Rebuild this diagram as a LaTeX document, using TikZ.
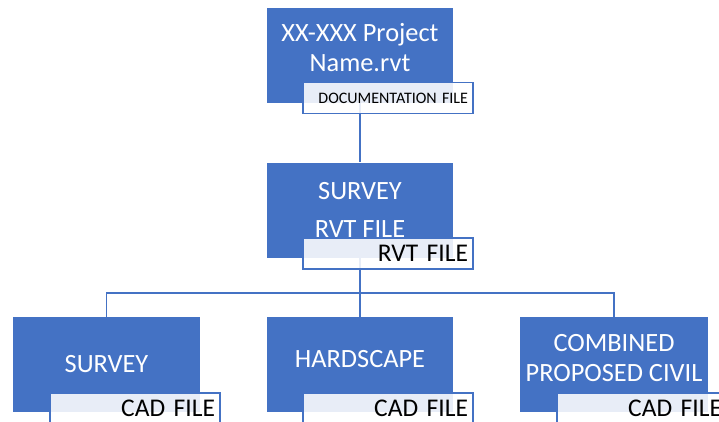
\documentclass[tikz,border=0pt]{standalone}
\usepackage{fontspec}
\setmainfont{Carlito}
\usetikzlibrary{positioning}
\definecolor{docblue}{HTML}{4472C4}
\tikzstyle{box}=[fill=docblue, text=white, minimum height = 1.9cm, minimum width=3.72cm, align=center, font=\fontsize{15}{17}\selectfont ]
\tikzstyle{lbl}=[draw=docblue, fill=white, fill opacity=0.88, text opacity=1, line width=1.1pt, minimum height = 0.62cm, text width=3.2cm, inner xsep=0.1cm, align=right, font=\fontsize{14.5}{16}\selectfont ]
\tikzstyle{conn}=[draw=docblue, line width=1.1pt]

\begin{document}
\begin{tikzpicture}[node distance=3.1cm,auto]
\useasboundingbox (0,0) rectangle (14.38,-8.42);
\clip (0,0) rectangle (14.38,-8.42);

  \node[box, text depth=9pt] at (7.2,-1.1) (proj) {XX-XXX Project\\Name.rvt};
  \node[box, below of = proj] (svy) {SURVEY\\[5pt]RVT FILE};

\node[box, below of = svy, node distance = 3.09cm, text depth=6pt] (hard) {HARDSCAPE};
\node[box, left of = hard, node distance = 5.07cm] (surv) {SURVEY};
\node[box, right of = hard, node distance = 5.08cm, text depth=7pt] (civ) {COMBINED\\PROPOSED CIVIL};

\draw[conn] (proj.south) -- (svy.north);
\draw[conn] (svy.south) -- ++(0,-0.7) coordinate (bus);
\draw[conn] (bus) -| (surv.north);
\draw[conn] (bus) -| (civ.north);
\draw[conn] (bus) -- (hard.north);

\node[lbl, below of = proj, node distance = 0.86cm, xshift = 0.56cm, font=\fontsize{9.1}{10}\selectfont] (projlbl) {DOCUMENTATION FILE};
\node[lbl, below of = svy, node distance = 0.87cm, xshift = 0.56cm] (svylbl) {RVT FILE};
\node[lbl, below of = surv, node distance = 0.88cm, xshift = 0.57cm] (survlbl) {CAD FILE};
\node[lbl, below of = hard, node distance = 0.88cm, xshift = 0.56cm] (hardlbl) {CAD FILE};
\node[lbl, below of = civ, node distance = 0.88cm, xshift = 0.56cm] (civlbl) {CAD FILE};
\end{tikzpicture}
\end{document}
